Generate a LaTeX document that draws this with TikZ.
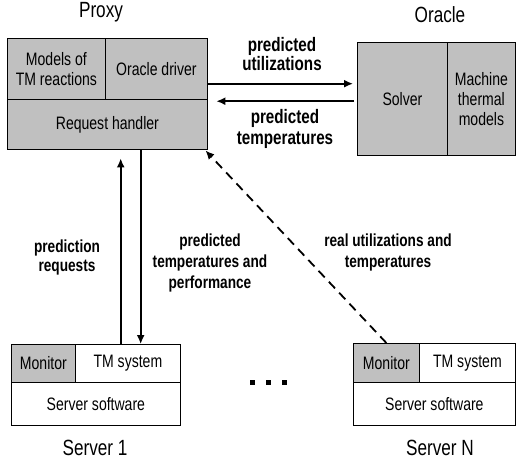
\documentclass[tikz,border=0pt]{standalone}
\usepackage{fontspec}
\setmainfont[FakeStretch=0.78]{Liberation Sans}
\usepackage{tikz}
\usetikzlibrary{positioning,arrows.meta}
\definecolor{boxgray}{RGB}{192,192,192}

\begin{document}
\begin{tikzpicture}[>={Latex[length=9pt,width=8pt]}, x=1pt, y=-1pt,
    cell/.style={draw, line width=0.8pt, inner sep=0pt, anchor=north west, align=center,
        font=\fontsize{18}{20}\selectfont},
    frame/.style={draw, line width=1.4pt, inner sep=0pt, anchor=north west},
    title/.style={font=\fontsize{22}{24}\selectfont},
    lbl/.style={align=center, inner sep=0pt, font=\bfseries\fontsize{17.5}{21}\selectfont},
    flow/.style={line width=1.6pt, ->}]
    \useasboundingbox (0,0) rectangle (517,467);

    % Proxy
    \node[cell, fill=boxgray, minimum width=98pt, minimum height=61pt] (models) at (7,38) {Models of\\TM reactions};
    \node[cell, fill=boxgray, minimum width=102pt, minimum height=61pt] (driver) at (105,38) {Oracle driver};
    \node[cell, fill=boxgray, minimum width=200pt, minimum height=50pt] (handler) at (7,99) {Request handler};
    \node[frame, minimum width=200pt, minimum height=111pt] (proxy) at (7,38) {};
    \node[title] (proxytitle) at (101,12) {Proxy};

    % Oracle
    \node[cell, fill=boxgray, minimum width=90pt, minimum height=113pt] (solver) at (357,42) {Solver};
    \node[cell, fill=boxgray, minimum width=68pt, minimum height=113pt] (thermal) at (447,42) {Machine\\thermal\\models};
    \node[frame, minimum width=158pt, minimum height=113pt] (oracle) at (357,42) {};
    \node[title] (oracletitle) at (440,15) {Oracle};

    % Server 1
    \node[cell, fill=boxgray, minimum width=64pt, minimum height=38pt] (mon1) at (11,344) {Monitor};
    \node[cell, minimum width=105pt, minimum height=38pt] (tm1) at (75,344) {TM system};
    \node[cell, minimum width=169pt, minimum height=43pt] (soft1) at (11,382) {Server software};
    \node[frame, minimum width=169pt, minimum height=81pt] (srv1) at (11,344) {};
    \node[title] (srv1title) at (95,448) {Server 1};

    % Server N
    \node[cell, fill=boxgray, minimum width=66pt, minimum height=39pt] (monN) at (353,343) {Monitor};
    \node[cell, minimum width=96pt, minimum height=39pt] (tmN) at (419,343) {TM system};
    \node[cell, minimum width=162pt, minimum height=43pt] (softN) at (353,382) {Server software};
    \node[frame, minimum width=162pt, minimum height=82pt] (srvN) at (353,343) {};
    \node[title] (srvNtitle) at (440,448) {Server N};

    \foreach \x in {252, 268, 284} {
        \fill (\x-2.5,380) rectangle (\x+2.5,385);
    }

    % Proxy <-> Oracle
    \draw[flow, shorten >=4pt] ([yshift=10.5pt]proxy.east) -- ([yshift=10.5pt]proxy.east -| oracle.west);
    \draw[flow, shorten >=8pt, shorten <=3pt] ([yshift=-7pt]proxy.east -| oracle.west) -- ([yshift=-7pt]proxy.east);
    \node[lbl, font=\bfseries\fontsize{19.5}{18}\selectfont] (utl) at (282,54) {predicted\\utilizations};
    \node[lbl, font=\bfseries\fontsize{19.5}{21}\selectfont] (temps) at (285,129) {predicted\\temperatures};

    % Proxy <-> servers
    \draw[flow, shorten >=8pt] ([xshift=24.5pt]srv1.north) -- ([xshift=24.5pt]srv1.north |- proxy.south);
    \draw[flow] ([xshift=44.5pt]srv1.north |- proxy.south) -- ([xshift=44.5pt]srv1.north);
    \draw[flow, dash pattern=on 9pt off 6pt, line width=1.8pt] (monN.north) -- ([xshift=-3pt]proxy.south east);
    \node[lbl, font=\bfseries\fontsize{17.5}{19}\selectfont] (req) at (67,257) {prediction\\requests};
    \node[lbl] (perf) at (210,263) {predicted\\temperatures and\\performance};
    \node[lbl] (real) at (388,252) {real utilizations and\\temperatures};
\end{tikzpicture}
\end{document}
